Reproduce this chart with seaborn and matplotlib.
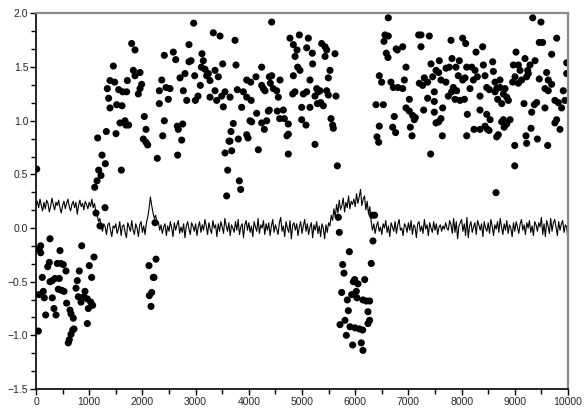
import matplotlib
matplotlib.use("Agg")
import matplotlib.pyplot as plt
from matplotlib.ticker import AutoMinorLocator
import seaborn as sns
import pandas as pd

# ---- scatter points (x, y) ----
pts_x = [
    13, 1103, 1147, 1178, 1222, 1241, 1303, 1159, 1322, 1504, 1604, 1365, 1340, 1391, 1454, 1479,
    1391, 1517, 1617, 1554, 1629, 1704, 1579, 1673, 1692, 1742, 1717, 1798, 1861, 1830, 1861,
    1955, 1986, 1955, 1923, 2036, 2068, 2017, 2068, 2099, 2280, 2318, 2318, 2363, 2382, 2412,
    2444, 2487, 2519, 2412, 2581, 2626, 2656, 2675, 2663, 2739, 2758, 2707, 2769, 2801, 2833,
    2876, 2914, 2876, 2964, 2983, 2995, 3045, 3089, 3120, 3108,
    44, 62, 88, 88, 118, 56, 137, 156, 182, 220, 250, 263, 263, 306, 306, 338, 357, 376, 400,
    438, 451, 470, 419, 483, 513, 526, 564, 576, 639, 658, 701, 752, 776, 814, 795, 846, 859,
    690, 658, 626, 607, 714, 902, 921, 965, 965, 983, 1002, 1028, 1046, 1065, 1090, 1128, 1203,
    1297, 2124, 2130, 2175, 2162, 2205, 2218, 2256, 2237,
    3145, 3177, 3208, 3271, 3240, 3365, 3333, 3459, 3509, 3427, 3365, 3396, 3271, 3490, 3553,
    3521, 3647, 3741, 3759, 3784, 3866, 3709, 3665, 3628, 3647, 3803, 3553, 3678, 3603, 3822,
    3847, 3584, 3961, 3985, 3897, 3961, 4036, 3961, 4045, 4023, 4054, 4148, 4135, 4242, 4179,
    4242, 4292, 4336, 4367, 4386, 4430, 4242, 4273, 4305, 4386, 4430, 4405, 4461, 4524, 4555,
    4587, 4536, 4580, 4649, 4668, 4743, 4718, 4743, 4774, 4837, 4906, 4950, 4870, 4919, 4962,
    4837, 4825, 4868, 4994, 4994, 5075, 5025, 5088, 5119, 5088, 5194, 5200, 5150, 5150, 5244,
    5244, 5276, 5307, 5338, 5370, 5433, 5433, 5464, 5495, 5526, 5464, 5401, 5351, 5289, 5495,
    5639, 5620, 5545, 5576, 5589, 5664, 4743,
    6622, 6560, 6622, 6541, 6585, 6616, 6770, 6791, 6453, 6497, 6672, 6716, 6804, 6391, 6529,
    6735, 6453, 6704, 6760, 6409, 6441,
    5683, 5702, 5890, 5765, 5789, 5965, 5990, 6052, 6021, 6178, 5746, 5934, 5852, 6033, 6146,
    6209, 6271, 5871, 6240, 5808, 6271, 6240, 5714, 5902, 5996, 6077, 6140, 5833, 5952, 6115,
    6146, 6302, 6334, 6321, 6365,
    9336, 9492, 9460, 9523, 9787, 9693, 9975, 9975, 9380, 9286, 9192, 9242, 9254, 9223, 9129,
    9067, 9023, 8973, 9067, 9098, 9004, 8960, 9460, 9598, 9629, 9567, 9629, 9692, 9754, 9817,
    9911, 9942, 9880, 9786, 9754, 9849, 9567, 9411, 9367, 9317, 9305, 9173, 9211, 9223, 9424,
    9618, 8999, 8999, 8647, 8660, 8690, 8754, 8785, 8816, 8722, 8629, 8660, 8723, 8848, 8879,
    8911, 8785, 8754, 8800, 8848, 8535, 8472, 8486, 8441, 8346, 8233, 8516, 8096, 8108, 7638,
    7418, 7068, 7036, 7111, 7130, 7080, 7018, 6955, 7287, 7487, 7519, 7569, 7612, 7644, 7487,
    7362, 7018, 6924, 6893, 6955, 6893, 7237, 7193, 7393, 7237, 7425, 7581, 7519, 7569, 7456,
    7299, 7205, 7268, 7362, 7487, 7612, 7706, 7706, 7769, 7819, 7894, 7957, 7801, 8020, 8077,
    8271, 8396, 8096, 8190, 8252, 8409, 8584, 8597, 8440, 8296, 8221, 8065, 8020, 7938, 7844,
    7750, 7813, 7907, 7876, 7970, 8052, 8158, 8346, 8472, 8522, 8628, 8678, 8346,
]
pts_y = [
    0.55, 0.38, 0.44, 0.54, 0.49, 0.68, 0.60, 0.84, 0.90, 0.88, 0.54, 1.21, 1.30, 1.375, 1.51, 1.36,
    1.12, 1.15, 1.14, 1.29, 1.27, 1.27, 0.98, 1.00, 0.96, 0.96, 1.375, 1.72, 1.66, 1.47, 1.42,
    1.45, 1.34, 1.30, 1.25, 1.04, 0.92, 0.83, 0.80, 0.775, 0.65, 1.28, 1.16, 1.38, 0.86, 1.61,
    1.31, 1.20, 1.30, 1.00, 1.64, 1.57, 0.95, 0.92, 0.68, 0.82, 0.97, 1.40, 1.28, 1.44, 1.19,
    1.55, 1.56, 1.71, 1.91, 1.42, 1.19, 1.23, 1.33, 1.625, 1.50,
    -0.96, -0.20, -0.165, -0.23, -0.46, -0.62, -0.59, -0.65, -0.81, -0.36, -0.32, -0.10, -0.50,
    -0.49, -0.65, -0.75, -0.47, -0.81, -0.33, -0.47, -0.21, -0.33, -0.57, -0.58, -0.34, -0.59,
    -0.40, -0.70, -0.765, -0.80, -0.84, -0.56, -0.49, -0.40, -0.64, -0.69, -0.165, -0.95, -0.99,
    -1.04, -1.07, -0.94, -0.64, -0.59, -0.66, -0.89, -0.75, -0.35, -0.69, -0.46, -0.72, -0.27,
    0.14, 0.02, 0.19, -0.35, -0.63, -0.60, -0.73, -0.46, -0.46, -0.29, 0.05,
    1.56, 1.48, 1.42, 1.375, 1.44, 1.47, 1.82, 1.79, 1.53, 1.41, 1.28, 1.19, 1.22, 1.23, 1.27,
    1.13, 1.22, 1.75, 1.52, 1.29, 1.125, 0.975, 0.90, 0.81, 0.81, 0.83, 0.70, 0.72, 0.54, 0.44,
    0.36, 0.30, 0.87, 0.84, 1.27, 1.38, 1.36, 1.22, 1.19, 1.00, 0.99, 1.07, 1.41, 1.50, 0.73,
    0.98, 0.92, 1.00, 1.09, 1.10, 1.92, 1.33, 1.30, 1.28, 1.41, 1.42, 1.35, 1.30, 1.28, 1.22,
    1.38, 1.09, 1.02, 1.10, 1.02, 0.875, 0.86, 0.69, 1.77, 1.71, 1.66, 1.80, 1.60, 1.50, 1.47,
    1.42, 1.25, 1.27, 1.125, 1.01, 0.96, 1.25, 1.27, 1.77, 1.68, 1.63, 1.53, 1.38, 1.125, 1.23,
    0.78, 1.30, 1.27, 1.28, 1.72, 1.69, 1.60, 1.66, 1.40, 1.47, 1.28, 1.14, 1.17, 1.16, 1.24,
    1.23, 1.625, 1.02, 0.96, 0.93, 0.58, 0.97,
    1.96, 1.80, 1.79, 1.74, 1.63, 1.59, 1.67, 1.66, 1.42, 1.36, 1.36, 1.31, 1.31, 1.15, 1.15,
    1.04, 0.95, 0.94, 0.89, 0.85, 0.80,
    0.10, -0.04, -0.22, -0.34, -0.42, -0.50, -0.48, -0.52, -0.59, -0.48, -0.60, -0.62, -0.67,
    -0.65, -0.67, -0.68, -0.68, -0.77, -0.78, -0.86, -0.86, -0.89, -0.90, -0.92, -0.93, -0.94,
    -0.95, -1.00, -1.09, -1.07, -1.14, -0.33, -0.12, 0.12, 0.12,
    1.96, 1.92, 1.73, 1.73, 1.77, 1.62, 1.54, 1.44, 1.56, 1.52, 1.58, 1.47, 1.44, 1.41, 1.38,
    1.35, 1.64, 1.52, 1.52, 1.47, 1.41, 1.36, 1.39, 1.45, 1.38, 1.30, 1.28, 1.34, 1.19, 1.17,
    1.28, 1.19, 1.12, 1.01, 0.98, 0.92, 1.12, 1.17, 1.15, 1.08, 0.93, 1.16, 0.86, 0.79, 0.83,
    0.77, 0.77, 0.58, 0.33, 0.85, 0.87, 1.16, 1.25, 1.30, 1.38, 1.36, 1.30, 1.31, 1.22, 1.19,
    1.01, 1.01, 0.99, 0.94, 0.97, 1.01, 1.06, 0.92, 0.95, 0.92, 0.92, 0.91, 0.86, 1.06, 0.86,
    0.69, 0.86, 0.94, 1.01, 1.03, 1.05, 1.09, 1.12, 1.10, 1.08, 0.98, 0.99, 1.02, 1.12, 1.18,
    1.21, 1.20, 1.38, 1.30, 1.50, 1.69, 1.80, 1.80, 1.79, 1.69, 1.53, 1.56, 1.47, 1.45, 1.41,
    1.40, 1.35, 1.33, 1.36, 1.27, 1.38, 1.36, 1.49, 1.50, 1.58, 1.50, 1.56, 1.75, 1.77, 1.72,
    1.64, 1.69, 1.50, 1.50, 1.47, 1.52, 1.55, 1.46, 1.42, 1.41, 1.38, 1.40, 1.38, 1.42, 1.31,
    1.23, 1.27, 1.28, 1.20, 1.19, 1.20, 1.30, 1.23, 1.31, 1.29, 1.27, 1.20, 1.10,
]

# ---- line trace, sampled every 25 units from 0 to 10000 ----
line_x = list(range(0, 10001, 25))
line_y = [
    0.22, 0.25, 0.19, 0.27, 0.21, 0.16, 0.24, 0.18, 0.26, 0.23, 0.15, 0.20, 0.28, 0.22, 0.17, 0.24, 0.21, 0.26, 0.19, 0.14,
    0.21, 0.25, 0.18, 0.23, 0.27, 0.20, 0.16, 0.22, 0.25, 0.19, 0.24, 0.13, 0.21, 0.26, 0.20, 0.23, 0.17, 0.25, 0.22, 0.18,
    0.24, 0.20, 0.27, 0.19, 0.23, 0.15, 0.12, 0.06, 0.09, 0.02, -0.03, 0.04, 0.01, -0.06, 0.03, 0.05, -0.02, -0.08, 0.02, 0.00,
    0.04, -0.05, -0.01, 0.06, -0.07, 0.02, 0.03, -0.04, -0.09, 0.05, 0.01, -0.03, 0.07, -0.02, -0.06, 0.04, 0.00, -0.08, 0.03, 0.06,
    -0.04, 0.02, -0.06, 0.05, 0.10, 0.18, 0.29, 0.21, 0.14, 0.09, 0.12, 0.04, 0.06, -0.02, 0.03, -0.05, 0.01, 0.04, -0.07, 0.02,
    -0.03, 0.06, 0.00, -0.08, 0.05, -0.02, 0.03, 0.07, -0.05, 0.01, -0.04, 0.04, -0.09, 0.02, 0.06, -0.01, -0.06, 0.05, 0.02, -0.03,
    0.04, -0.07, 0.01, 0.06, -0.04, 0.03, -0.02, 0.08, 0.02, -0.06, 0.05, -0.01, -0.05, 0.07, 0.00, 0.03, -0.08, 0.04, -0.03, 0.06,
    0.01, -0.05, 0.09, 0.02, -0.03, 0.05, -0.07, 0.03, 0.00, -0.04, 0.06, -0.02, 0.08, -0.06, 0.01, 0.04, -0.09, 0.03, 0.07, -0.02,
    0.05, -0.04, 0.02, -0.08, 0.06, 0.01, -0.03, 0.09, -0.05, 0.03, 0.00, 0.07, -0.06, 0.04, -0.02, 0.05, -0.07, 0.02, 0.08, -0.04,
    0.03, -0.01, -0.06, 0.05, 0.10, -0.03, 0.02, -0.08, 0.06, 0.00, -0.04, 0.07, -0.10, 0.03, 0.05, -0.02, 0.04, -0.07, 0.01, 0.06,
    -0.05, 0.02, 0.08, -0.03, 0.04, -0.06, 0.01, 0.05, -0.09, 0.03, -0.02, 0.06, -0.05, 0.02, -0.08, 0.04, 0.00, -0.10, 0.03, -0.04,
    0.05, 0.02, 0.12, 0.07, 0.18, 0.10, 0.22, 0.14, 0.26, 0.17, 0.21, 0.28, 0.15, 0.24, 0.19, 0.30, 0.18, 0.25, 0.22, 0.27,
    0.20, 0.32, 0.23, 0.29, 0.36, 0.21, 0.27, 0.30, 0.17, 0.25, 0.13, 0.20, 0.06, -0.02, 0.04, -0.05, 0.02, 0.06, -0.03, 0.01,
    -0.06, 0.04, 0.00, 0.07, -0.04, 0.02, -0.08, 0.05, 0.01, -0.03, 0.06, -0.05, 0.03, 0.08, -0.02, 0.00, -0.07, 0.04, 0.02, -0.04,
    0.05, -0.02, 0.07, -0.06, 0.03, 0.01, -0.09, 0.04, 0.06, -0.03, 0.02, -0.05, 0.08, -0.01, 0.03, -0.07, 0.05, 0.00, -0.04, 0.06,
    -0.02, 0.04, -0.06, 0.01, 0.03, -0.03, 0.02, -0.01, 0.05, 0.00, -0.02, 0.07, 0.03, -0.05, 0.09, -0.04, 0.06, -0.10, 0.02, 0.05,
    0.08, -0.03, 0.04, -0.07, 0.10, -0.09, 0.02, 0.06, -0.04, 0.01, 0.05, -0.06, 0.07, 0.03, -0.02, 0.04, -0.08, 0.06, 0.00, -0.03,
    0.05, -0.05, 0.08, 0.02, -0.07, 0.03, -0.01, 0.06, -0.04, 0.09, 0.01, -0.06, 0.04, -0.02, 0.07, -0.05, 0.03, 0.00, -0.08, 0.05,
    -0.03, 0.06, 0.01, -0.05, 0.04, 0.08, -0.02, 0.03, -0.06, 0.05, 0.00, 0.07, -0.04, 0.02, -0.07, 0.06, 0.03, -0.03, 0.05, 0.01,
    0.10, -0.06, 0.04, -0.08, 0.07, 0.02, -0.05, 0.09, -0.03, 0.05, 0.08, 0.01, -0.07, 0.06, -0.02, 0.04, 0.07, -0.04, 0.03, 0.01,
    -0.12,
]

x_ticks = [0, 1000, 2000, 3000, 4000, 5000, 6000, 7000, 8000, 9000, 10000]
y_ticks = [-1.5, -1.0, -0.5, 0.0, 0.5, 1.0, 1.5, 2.0]

sns.set_style("white")
plt.rcParams['font.family'] = ['Liberation Sans', 'DejaVu Sans']

fig = plt.figure(figsize=(5.84, 4.11), dpi=100)
ax = fig.add_axes([36 / 584, 22 / 411, 532 / 584, 375.5 / 411])

df_pts = pd.DataFrame({"x": pts_x, "y": pts_y})
df_line = pd.DataFrame({"x": line_x, "y": line_y})

sns.lineplot(data=df_line, x="x", y="y", ax=ax, color="black", linewidth=0.8,
             estimator=None, sort=False)
sns.scatterplot(data=df_pts, x="x", y="y", ax=ax, color="black", s=26,
                edgecolor="none", linewidth=0)

ax.set_xlim(0, 10000)
ax.set_ylim(-1.5, 2.0)
ax.set_xticks(x_ticks)
ax.set_xticklabels([str(v) for v in x_ticks])
ax.set_yticks(y_ticks)
ax.set_yticklabels([f"{v:.1f}".replace("-", "\u2212") for v in y_ticks])
ax.xaxis.set_minor_locator(AutoMinorLocator(2))
ax.yaxis.set_minor_locator(AutoMinorLocator(3))
ax.set_xlabel("")
ax.set_ylabel("")

ax.tick_params(axis="both", which="major", direction="out", length=4, width=1,
               color="black", labelsize=7.5, pad=1.5, bottom=True, left=True)
ax.tick_params(axis="both", which="minor", direction="out", length=3.5, width=1,
               color="black", bottom=True, left=True)
ax.tick_params(top=False, right=False, which="both")

for side in ["left", "bottom"]:
    ax.spines[side].set_color("black")
    ax.spines[side].set_linewidth(1.2)
for side in ["top", "right"]:
    ax.spines[side].set_color("#8a8a8a")
    ax.spines[side].set_linewidth(1.6)
    ax.spines[side].set_visible(True)

fig.savefig("out.png", dpi=100)
